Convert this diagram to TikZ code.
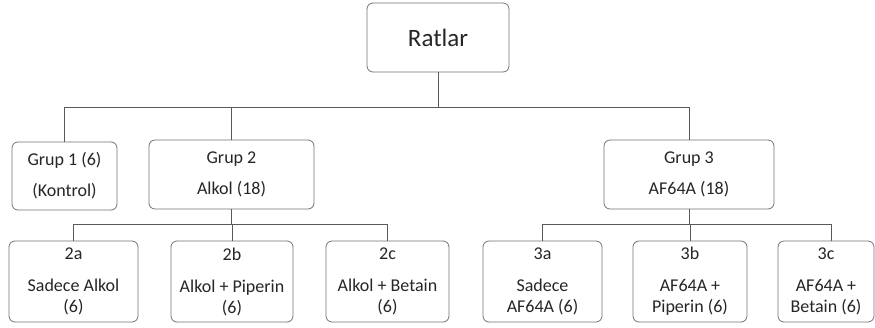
\documentclass[tikz,border=0pt]{standalone}
\usepackage{fontspec}
\setmainfont{Carlito}
\begin{document}
\begin{tikzpicture}[x=1pt,y=-1pt,
  box/.style={draw=black!55, line width=0.8pt, rounded corners=6pt, fill=white,
    inner sep=0pt, align=center, text=black!85,
    font=\fontsize{18}{21}\selectfont},
  link/.style={draw=black!65, line width=0.8pt}]
\useasboundingbox[fill=white] (0,0) rectangle (875,327);

% root
\node[box, minimum width=142, minimum height=69, font=\fontsize{25}{28}\selectfont]
  (r) at (438,37.5) {Ratlar};

% first level
\node[box, minimum width=105, minimum height=68] (g1) at (64.5,176)
  {Grup 1 (6)\\[10pt](Kontrol)};
\node[box, minimum width=165, minimum height=69] (g2) at (231.5,174.5)
  {Grup 2\\[10pt]Alkol (18)};
\node[box, minimum width=170, minimum height=69] (g3) at (689,174.5)
  {Grup 3\\[10pt]AF64A (18)};

% second level
\node[box, minimum width=129, minimum height=81] (s2a) at (73.5,281.5)
  {2a\\[11pt]Sadece Alkol\\(6)};
\node[box, minimum width=122, minimum height=81] (s2b) at (232,281.5)
  {2b\\[11pt]Alkol + Piperin\\(6)};
\node[box, minimum width=123, minimum height=81] (s2c) at (387.5,281.5)
  {2c\\[11pt]Alkol + Betain\\(6)};
\node[box, minimum width=119, minimum height=81] (s3a) at (542.5,281.5)
  {3a\\[11pt]Sadece\\AF64A (6)};
\node[box, minimum width=114, minimum height=81] (s3b) at (690,281.5)
  {3b\\[11pt]AF64A +\\Piperin (6)};
\node[box, minimum width=96, minimum height=81] (s3c) at (826,281.5)
  {3c\\[11pt]AF64A +\\Betain (6)};

% bus levels
\coordinate (bus1) at (438,107);
\coordinate (bus2) at (0,224);
\coordinate (s3ctop) at ([xshift=5]s3c.north);

% connectors
\draw[link] (r.south) -- (bus1);
\draw[link] (g1.north) |- (g3.north |- bus1) -- (g3.north);
\draw[link] (g2.north) -- (g2.north |- bus1);

\draw[link] (g2.south) -- (g2.south |- bus2);
\draw[link] (s2a.north) |- (s2c.north |- bus2) -- (s2c.north);
\draw[link] (s2b.north) -- (s2b.north |- bus2);

\draw[link] (g3.south) -- (g3.south |- bus2);
\draw[link] (s3a.north) |- (s3ctop |- bus2) -- (s3ctop);
\draw[link] (s3b.north) -- (s3b.north |- bus2);
\end{tikzpicture}
\end{document}
